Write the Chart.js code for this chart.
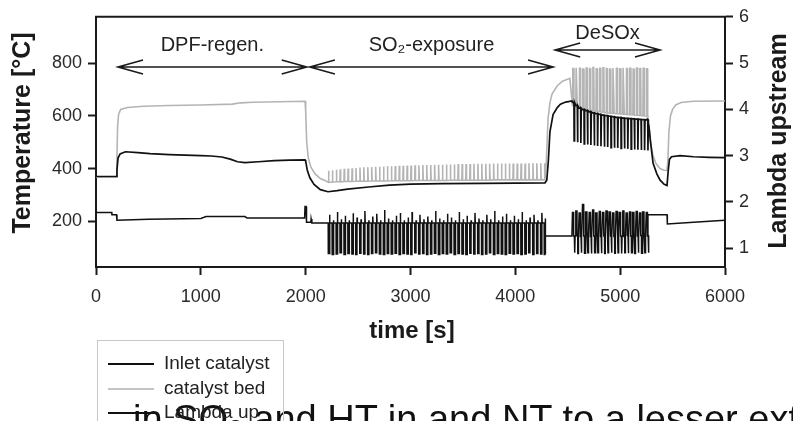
<!DOCTYPE html>
<html lang="en">
<head>
<meta charset="UTF-8">
<title>Catalyst temperatures and lambda</title>
<script src="https://cdn.jsdelivr.net/npm/chart.js"></script>
<style>
  html, body { margin: 0; padding: 0; background: #fff; }
  body { width: 793px; height: 421px; overflow: hidden; position: relative; font-family: "Liberation Sans", Arial, sans-serif; }
  .page { position: absolute; left: 0; top: 0; width: 793px; height: 421px; filter: blur(0.45px); }
  #chart { position: absolute; left: 0; top: 0; }
  .caption { position: absolute; left: 133px; top: 394px; font-size: 38px; line-height: 50px; white-space: nowrap; color: #111; }
  .legend { position: absolute; left: 97px; top: 340px; width: 185px; height: 100px; border: 1px solid #c8c8c8; }
  .legend div { position: absolute; left: 10px; height: 24px; line-height: 24px; font-size: 19px; color: #222; white-space: nowrap; }
  .legend span { display: inline-block; width: 46px; height: 2px; margin-right: 10px; vertical-align: middle; }
</style>
</head>
<body>
<div class="page">
<div class="caption">in SO₂ and HT in and NT to a lesser extent</div>
<canvas id="chart" width="793" height="421"></canvas>
<div class="legend">
  <div style="top:10px"><span style="background:#111"></span>Inlet catalyst</div>
  <div style="top:35px"><span style="background:#c4c4c4"></span>catalyst bed</div>
  <div style="top:59px"><span style="background:#111"></span>Lambda up</div>
</div>
</div>
<script>
// axis ticks
const timeTicks = [0, 1000, 2000, 3000, 4000, 5000, 6000];
const tempTicks = [200, 400, 600, 800];
const lambdaTicks = [1, 2, 3, 4, 5, 6];

// test phases [s]
const phaseNames = ['DPF-regen.', 'SO₂-exposure', 'DeSOx'];
const phaseStart = [210, 2040, 4380];
const phaseEnd = [2010, 4360, 5380];

// inlet catalyst temperature [s, °C], steady parts
const inletBefore = [[0,370],[195,370],[200,395],[210,440],[230,456],[280,464],[400,461],[515,457],[700,453],[1000,449],[1100,448],[1200,444],[1280,436],[1350,426],[1420,423],[1550,426],[1700,430],[1850,432],[1994,433],[2000,428],[2015,395],[2040,365],[2080,340],[2140,320],[2213,312],[2300,316],[2400,322],[2600,330],[2800,337],[3000,341],[3300,343],[3700,344],[4000,345],[4283,346],[4300,356],[4315,430],[4330,540],[4360,605],[4400,632],[4430,645],[4480,653],[4540,657]];
const inletAfter = [[5262,587],[5275,560],[5290,500],[5314,420],[5350,380],[5381,356],[5420,340],[5447,336],[5458,390],[5470,435],[5490,445],[5571,449],[5700,445],[5850,443],[6000,442]];

// catalyst bed temperature [s, °C], steady parts
const bedBefore = [[0,368],[195,368],[200,450],[206,560],[215,605],[235,625],[300,632],[450,637],[700,640],[1000,642],[1300,645],[1380,650],[1500,652],[1750,654],[1994,656],[2000,620],[2010,500],[2025,440],[2050,405],[2090,380],[2140,362],[2200,352]];
const bedMid = [[4283,357],[4295,420],[4312,590],[4330,650],[4350,683],[4400,715],[4450,732],[4520,743]];
const bedAfter = [[5262,605],[5275,560],[5290,500],[5310,455],[5340,420],[5380,400],[5420,394],[5446,393],[5455,430],[5465,540],[5480,600],[5500,625],[5530,642],[5580,651],[5700,656],[6000,657]];

// lambda upstream [s, -], steady parts
const lambdaBefore = [[0,1.77],[150,1.77],[152,1.72],[195,1.72],[200,1.6],[500,1.62],[1000,1.64],[1050,1.68],[1420,1.68],[1440,1.65],[1990,1.65],[1994,1.9],[2004,1.9],[2008,1.56],[2050,1.56],[2052,1.63],[2058,1.63],[2060,1.54],[2213,1.54]];
const lambdaMid = [[4283,1.54],[4285,1.26],[4540,1.26]];
const lambdaAfter = [[5262,1.26],[5265,1.72],[5447,1.72],[5450,1.52],[5700,1.56],[6000,1.6]];

// rich pulses during SO2 exposure
const so2PulseTime = [2215,2252,2290,2327,2365,2402,2440,2477,2515,2552,2590,2627,2665,2702,2740,2777,2815,2852,2890,2927,2965,3002,3040,3077,3115,3152,3190,3227,3265,3302,3340,3377,3415,3452,3490,3527,3565,3602,3640,3677,3715,3752,3790,3827,3865,3902,3940,3977,4015,4052,4090,4127,4165,4202,4240,4275];
const so2BedBase = [348,349,350,350,351,351,351,352, 352,352,352,353,353,353,353,353, 354,354,354,354,354,354,355,355, 355,355,355,355,355,355,355,356, 356,356,356,356,356,356,356,356, 356,356,357,357,357,357,357,357, 357,357,357,357,357,357,357,357];
const so2BedPeak = [392,394,396,397,399,400,401,402, 404,405,405,406,407,407,408,409, 409,410,411,411,412,412,413,413, 414,414,414,415,415,415,416,416, 416,417,417,417,417,418,418,418, 418,418,419,419,419,419,419,419, 419,419,419,420,420,420,420,420];
const so2LambdaLean = [1.54,1.54,1.54,1.54,1.54,1.54,1.54,1.54, 1.54,1.54,1.54,1.54,1.54,1.54,1.54,1.54, 1.54,1.54,1.54,1.54,1.54,1.54,1.54,1.54, 1.54,1.54,1.54,1.54,1.54,1.54,1.54,1.54, 1.54,1.54,1.54,1.54,1.54,1.54,1.54,1.54, 1.54,1.54,1.54,1.54,1.54,1.54,1.54,1.54, 1.54,1.54,1.54,1.54,1.54,1.54,1.54,1.54];
const so2LambdaRich = [0.88,0.86,0.87,0.9,0.86,0.88,0.87,0.86, 0.89,0.87,0.86,0.88,0.9,0.87,0.86,0.88, 0.87,0.89,0.86,0.88,0.87,0.86,0.9,0.87, 0.88,0.86,0.87,0.89,0.86,0.88,0.87,0.9, 0.86,0.88,0.87,0.86,0.89,0.87,0.88,0.86, 0.87,0.9,0.86,0.88,0.87,0.86,0.89,0.87, 0.88,0.86,0.87,0.9,0.86,0.88,0.87,0.86];
const so2LambdaPeak = [1.72,1.6,1.78,1.62,1.7,1.6,1.75,1.66, 1.62,1.8,1.6,1.68,1.74,1.6,1.82,1.64, 1.6,1.7,1.76,1.6,1.66,1.78,1.6,1.72, 1.62,1.68,1.6,1.8,1.64,1.6,1.74,1.66, 1.6,1.78,1.62,1.7,1.6,1.76,1.64,1.6, 1.72,1.62,1.8,1.6,1.68,1.74,1.6,1.7, 1.62,1.78,1.6,1.66,1.72,1.6,1.76,1.64];

// lean/rich cycles during DeSOx
const desoxTime = [4545,4577,4609,4641,4673,4705,4737,4769,4801,4833,4865,4897,4929,4961,4993,5025,5057,5089,5121,5153,5185,5217,5249];
const desoxInletHigh = [652,640,630,624,620,616,612,609,606,603,601,599,597,595,594,592,591,590,589,588,587,586,585];
const desoxInletLow = [505,500,497,494,492,490,488,486,485,483,482,480,479,478,477,476,475,474,473,472,471,470,469];
const desoxBedHigh = [780,783,781,778,782,780,784,779,781,783,780,778,782,781,779,783,780,781,778,782,780,781,779];
const desoxBedLow = [640,636,632,628,625,622,620,618,616,614,612,611,610,609,608,607,606,605,604,603,602,601,600];
const desoxLambdaLean = [1.77,1.8,1.76,1.94,1.78,1.77,1.82,1.76,1.79,1.77,1.8,1.78,1.76,1.79,1.77,1.8,1.76,1.78,1.77,1.79,1.76,1.78,1.77];
const desoxLambdaMid = [1.26,1.27,1.25,1.26,1.28,1.25,1.26,1.27,1.25,1.26,1.27,1.26,1.25,1.28,1.26,1.25,1.27,1.26,1.25,1.26,1.27,1.25,1.26];
const desoxLambdaRich = [0.9,0.88,0.9,0.89,0.9,0.88,0.9,0.9,0.89,0.88,0.9,0.9,0.89,0.9,0.88,0.9,0.89,0.9,0.88,0.9,0.89,0.9,0.9];

const pts = list => list.map(([x, y]) => ({ x, y }));

function inletSeries() {
  const out = pts(inletBefore);
  desoxTime.forEach((t, i) => {
    out.push({ x: t, y: desoxInletHigh[i] }, { x: t + 14, y: desoxInletHigh[i] },
             { x: t + 16, y: desoxInletLow[i] }, { x: t + 20, y: desoxInletHigh[i] });
  });
  return out.concat(pts(inletAfter));
}

function bedSeries() {
  const out = pts(bedBefore);
  so2PulseTime.forEach((t, i) => {
    out.push({ x: t, y: so2BedBase[i] }, { x: t + 3, y: so2BedPeak[i] }, { x: t + 7, y: so2BedBase[i] });
  });
  out.push(...pts(bedMid));
  desoxTime.forEach((t, i) => {
    out.push({ x: t, y: desoxBedLow[i] }, { x: t + 3, y: desoxBedHigh[i] },
             { x: t + 11, y: desoxBedHigh[i] }, { x: t + 14, y: desoxBedLow[i] });
  });
  return out.concat(pts(bedAfter));
}

function lambdaSeries() {
  const out = pts(lambdaBefore);
  so2PulseTime.forEach((t, i) => {
    out.push({ x: t, y: so2LambdaLean[i] }, { x: t + 1, y: so2LambdaRich[i] }, { x: t + 12, y: so2LambdaRich[i] },
             { x: t + 13, y: so2LambdaPeak[i] }, { x: t + 16, y: so2LambdaLean[i] });
  });
  out.push(...pts(lambdaMid));
  desoxTime.forEach((t, i) => {
    out.push({ x: t, y: desoxLambdaLean[i] }, { x: t + 10, y: desoxLambdaLean[i] },
             { x: t + 11, y: desoxLambdaMid[i] }, { x: t + 18, y: desoxLambdaMid[i] },
             { x: t + 19, y: desoxLambdaRich[i] }, { x: t + 24, y: desoxLambdaRich[i] },
             { x: t + 25, y: desoxLambdaMid[i] });
  });
  return out.concat(pts(lambdaAfter));
}

const INK = '#1a1a1a';
const FONT = '"Liberation Sans", Arial, sans-serif';
Chart.defaults.font.family = FONT;

function axisStyle(extra) {
  return Object.assign({
    border: { display: true, color: INK, width: 2 },
    grid: { display: true, drawOnChartArea: false, drawTicks: true, tickLength: 8, tickWidth: 2, tickColor: INK },
    ticks: { color: '#2a2a2a', font: { size: 18 }, padding: 6, callback: v => String(v) }
  }, extra);
}

// frame top edge, phase arrows and axis titles
const decorations = {
  id: 'decorations',
  afterDraw(chart) {
    const { ctx, chartArea: a, scales: { x } } = chart;
    ctx.save();
    ctx.strokeStyle = INK;
    ctx.lineWidth = 2;
    ctx.beginPath();
    ctx.moveTo(a.left - 1, a.top);
    ctx.lineTo(a.right + 1, a.top);
    ctx.stroke();

    const arrowY = [67, 67, 50];
    const labelY = [45, 45, 33];
    ctx.lineWidth = 1.6;
    ctx.fillStyle = '#222';
    ctx.font = '20px ' + FONT;
    ctx.textAlign = 'center';
    ctx.textBaseline = 'middle';
    phaseNames.forEach((name, i) => {
      const x1 = x.getPixelForValue(phaseStart[i]);
      const x2 = x.getPixelForValue(phaseEnd[i]);
      const y = arrowY[i];
      ctx.beginPath();
      ctx.moveTo(x1, y); ctx.lineTo(x2, y);
      ctx.moveTo(x1 + 25, y - 7); ctx.lineTo(x1, y); ctx.lineTo(x1 + 25, y + 7);
      ctx.moveTo(x2 - 25, y - 7); ctx.lineTo(x2, y); ctx.lineTo(x2 - 25, y + 7);
      ctx.stroke();
      ctx.fillText(name, (x1 + x2) / 2, labelY[i]);
    });

    ctx.fillStyle = INK;
    ctx.font = 'bold 24px ' + FONT;
    ctx.fillText('time [s]', 412, 331);
    ctx.font = 'bold 25px ' + FONT;
    [['Temperature [°C]', 23, 133], ['Lambda upstream', 779, 141]].forEach(([text, tx, ty]) => {
      ctx.save();
      ctx.translate(tx, ty);
      ctx.rotate(-Math.PI / 2);
      ctx.fillText(text, 0, 0);
      ctx.restore();
    });
    ctx.restore();
  }
};

new Chart(document.getElementById('chart'), {
  type: 'line',
  data: {
    datasets: [
      { label: 'Inlet catalyst', data: inletSeries(), borderColor: '#111', borderWidth: 1.7, yAxisID: 'y' },
      { label: 'catalyst bed', data: bedSeries(), borderColor: '#b4b4b4', borderWidth: 1.6, yAxisID: 'y' },
      { label: 'Lambda up', data: lambdaSeries(), borderColor: '#111', borderWidth: 1.5, yAxisID: 'y1' }
    ]
  },
  options: {
    responsive: false,
    animation: false,
    elements: { point: { radius: 0 }, line: { tension: 0 } },
    layout: { padding: { top: 15, left: 0, right: 0, bottom: 0 } },
    plugins: { legend: { display: false }, tooltip: { enabled: false } },
    scales: {
      x: axisStyle({
        type: 'linear', min: 0, max: 6000,
        ticks: { color: '#2a2a2a', font: { size: 18 }, padding: 11, callback: v => String(v) },
        afterBuildTicks: s => { s.ticks = timeTicks.map(v => ({ value: v })); },
        afterFit: s => { s.height = 154; }
      }),
      y: axisStyle({
        position: 'left', min: 26, max: 977,
        afterBuildTicks: s => { s.ticks = tempTicks.map(v => ({ value: v })); },
        afterFit: s => { s.width = 96; }
      }),
      y1: axisStyle({
        position: 'right', min: 0.59, max: 6,
        afterBuildTicks: s => { s.ticks = lambdaTicks.map(v => ({ value: v })); },
        afterFit: s => { s.width = 68; }
      })
    }
  },
  plugins: [decorations]
});
</script>
</body>
</html>
